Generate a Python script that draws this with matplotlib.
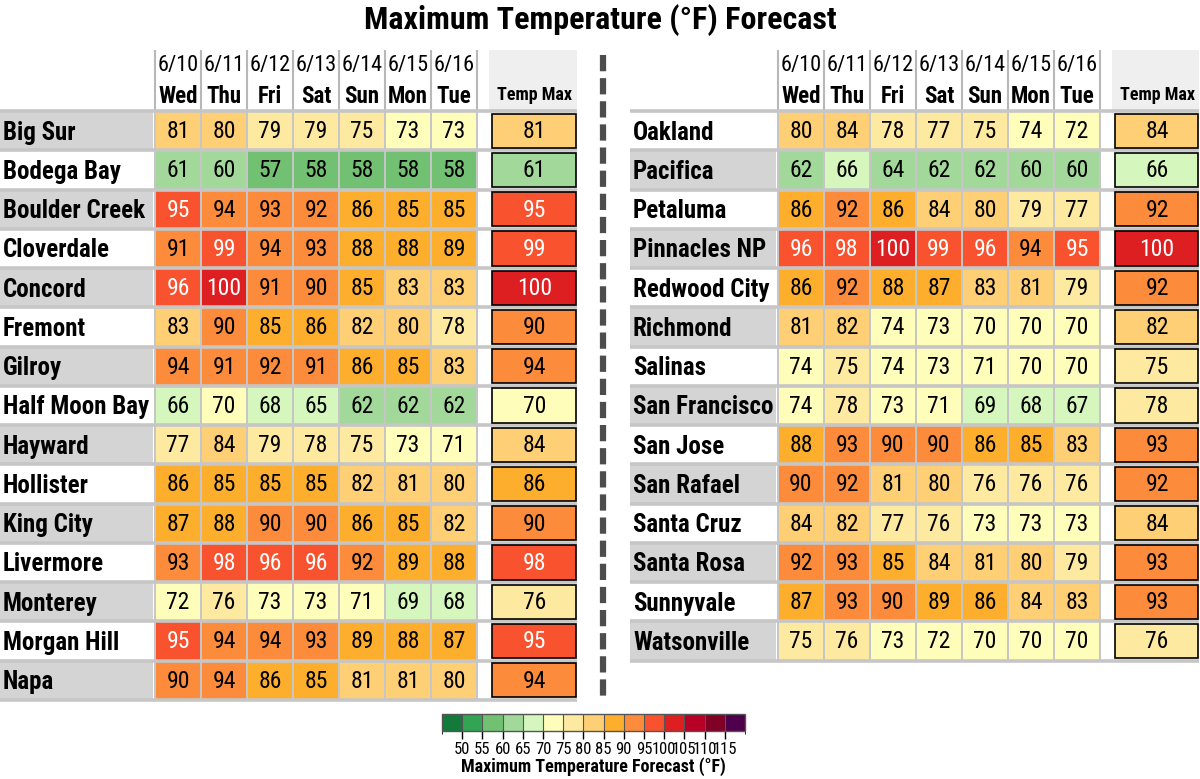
import numpy as np
import matplotlib
matplotlib.use('Agg')
import matplotlib.pyplot as plt
from matplotlib.colors import ListedColormap, BoundaryNorm
from matplotlib.cm import ScalarMappable

plt.rcParams['font.family'] = ['Roboto Condensed', 'Liberation Sans Narrow', 'Roboto', 'DejaVu Sans']

# ---------------- data ----------------
dates = ['6/10', '6/11', '6/12', '6/13', '6/14', '6/15', '6/16']
days = ['Wed', 'Thu', 'Fri', 'Sat', 'Sun', 'Mon', 'Tue']

left_cities = ['Big Sur', 'Bodega Bay', 'Boulder Creek', 'Cloverdale', 'Concord', 'Fremont',
               'Gilroy', 'Half Moon Bay', 'Hayward', 'Hollister', 'King City', 'Livermore',
               'Monterey', 'Morgan Hill', 'Napa']
left_temps = [
    [81, 80, 79, 79, 75, 73, 73],
    [61, 60, 57, 58, 58, 58, 58],
    [95, 94, 93, 92, 86, 85, 85],
    [91, 99, 94, 93, 88, 88, 89],
    [96, 100, 91, 90, 85, 83, 83],
    [83, 90, 85, 86, 82, 80, 78],
    [94, 91, 92, 91, 86, 85, 83],
    [66, 70, 68, 65, 62, 62, 62],
    [77, 84, 79, 78, 75, 73, 71],
    [86, 85, 85, 85, 82, 81, 80],
    [87, 88, 90, 90, 86, 85, 82],
    [93, 98, 96, 96, 92, 89, 88],
    [72, 76, 73, 73, 71, 69, 68],
    [95, 94, 94, 93, 89, 88, 87],
    [90, 94, 86, 85, 81, 81, 80],
]
left_max = [81, 61, 95, 99, 100, 90, 94, 70, 84, 86, 90, 98, 76, 95, 94]

right_cities = ['Oakland', 'Pacifica', 'Petaluma', 'Pinnacles NP', 'Redwood City', 'Richmond',
                'Salinas', 'San Francisco', 'San Jose', 'San Rafael', 'Santa Cruz', 'Santa Rosa',
                'Sunnyvale', 'Watsonville']
right_temps = [
    [80, 84, 78, 77, 75, 74, 72],
    [62, 66, 64, 62, 62, 60, 60],
    [86, 92, 86, 84, 80, 79, 77],
    [96, 98, 100, 99, 96, 94, 95],
    [86, 92, 88, 87, 83, 81, 79],
    [81, 82, 74, 73, 70, 70, 70],
    [74, 75, 74, 73, 71, 70, 70],
    [74, 78, 73, 71, 69, 68, 67],
    [88, 93, 90, 90, 86, 85, 83],
    [90, 92, 81, 80, 76, 76, 76],
    [84, 82, 77, 76, 73, 73, 73],
    [92, 93, 85, 84, 81, 80, 79],
    [87, 93, 90, 89, 86, 84, 83],
    [75, 76, 73, 72, 70, 70, 70],
]
right_max = [84, 66, 92, 100, 92, 82, 75, 78, 93, 92, 84, 93, 93, 76]

bounds = [45, 50, 55, 60, 65, 70, 75, 80, 85, 90, 95, 100, 105, 110, 115, 120]
bin_colors = ['#137a3b', '#32a454', '#72c173', '#a2d99a', '#d5f6bd', '#fffdba', '#fee9a1',
              '#fecf74', '#fdae2d', '#fc8b3b', '#f8522e', '#dd1f22', '#b80027', '#800026',
              '#4e004d']
cbar_ticks = [50, 55, 60, 65, 70, 75, 80, 85, 90, 95, 100, 105, 110, 115]

cmap = ListedColormap(bin_colors)
norm = BoundaryNorm(bounds, cmap.N)

# ---------------- layout ----------------
W, H = 1200, 779
ROW_Y0 = 111.0
ROW_H = 39.25
COL_W = 46.0
HEAD_Y0 = 50.0
GRID = '#c6c6c6'
LABEL_BG = '#d4d4d4'

fig = plt.figure(figsize=(W / 100, H / 100), dpi=100)
ax = fig.add_axes([0, 0, 1, 1])
ax.set_xlim(0, W)
ax.set_ylim(H, 0)
ax.axis('off')


def draw_table(lab_x0, cell_x0, max_x0, max_x1, cities, temps, maxs, gray_parity):
    n = len(cities)
    ncol = len(dates)
    cell_x1 = cell_x0 + COL_W * ncol
    y_edges = ROW_Y0 + ROW_H * np.arange(n + 1)
    x_edges = cell_x0 + COL_W * np.arange(ncol + 1)

    # label backgrounds
    for i in range(n):
        if i % 2 == gray_parity:
            ax.bar(lab_x0, ROW_H, width=cell_x0 - lab_x0 - 2, bottom=y_edges[i],
                   align='edge', color=LABEL_BG, zorder=1)
        ax.text(lab_x0 + 3, y_edges[i] + ROW_H / 2 + 2, cities[i], fontsize=18,
                fontweight='bold', ha='left', va='center', zorder=5)

    # header
    ax.bar(max_x0 - 3, ROW_Y0 - HEAD_Y0, width=max_x1 - max_x0 + 3, bottom=HEAD_Y0,
           align='edge', color='#efefef', zorder=1)
    ax.vlines(x_edges, HEAD_Y0, ROW_Y0, color='#b8b8b8', lw=1.5, zorder=2)
    for j in range(ncol):
        xc = x_edges[j] + COL_W / 2
        ax.text(xc, 65, dates[j], fontsize=16, ha='center', va='center', zorder=5)
        ax.text(xc, 96, days[j], fontsize=16.5, fontweight='bold', ha='center', va='center',
                zorder=5)
    ax.text((max_x0 + max_x1) / 2, 95, 'Temp Max', fontsize=13, fontweight='bold',
            ha='center', va='center', zorder=5)

    # heat cells
    ax.pcolormesh(x_edges, y_edges, np.array(temps), cmap=cmap, norm=norm,
                  edgecolors=GRID, linewidth=1.4, zorder=2)
    # row separators
    ax.hlines(y_edges, lab_x0, max_x1, color=GRID, lw=2.6, zorder=3)
    ax.vlines(cell_x1, ROW_Y0, y_edges[-1], color=GRID, lw=1.4, zorder=3)

    for i in range(n):
        yc = y_edges[i] + ROW_H / 2 + 1
        for j in range(ncol):
            v = temps[i][j]
            ax.text(x_edges[j] + COL_W / 2, yc, str(v), fontsize=17, ha='center', va='center',
                    color='white' if v >= 95 else 'black', zorder=5)

    # temp max boxes
    maxcols = [cmap(norm(v)) for v in maxs]
    ax.bar(max_x0, ROW_H - 5, width=max_x1 - max_x0 - 1, bottom=y_edges[:-1] + 2.5,
           align='edge', color=maxcols, edgecolor='black', linewidth=1.2, zorder=4)
    for i in range(n):
        v = maxs[i]
        ax.text((max_x0 + max_x1) / 2, y_edges[i] + ROW_H / 2 + 1, str(v), fontsize=17,
                ha='center', va='center', color='white' if v >= 95 else 'black', zorder=5)


draw_table(0, 155, 492, 577, left_cities, left_temps, left_max, 0)
draw_table(630, 778, 1115, 1199, right_cities, right_temps, right_max, 1)

# dashed divider
ax.vlines(603, 55, 700, color='#4d4d4d', lw=4.5, linestyles=(0, (2.6, 1.1)), zorder=3)

# title
fig.text(0.5, 1 - 20 / H, 'Maximum Temperature (°F) Forecast', fontsize=23,
         fontweight='bold', ha='center', va='center')

# colorbar
cax = fig.add_axes([442 / W, 1 - 731 / H, 303 / W, 17 / H])
sm = ScalarMappable(norm=norm, cmap=cmap)
cb = fig.colorbar(sm, cax=cax, orientation='horizontal', ticks=cbar_ticks, drawedges=True)
cb.outline.set_edgecolor('#555555')
cb.outline.set_linewidth(1.0)
cb.dividers.set_color('#555555')
cb.dividers.set_linewidth(0.8)
cb.ax.tick_params(labelsize=12, length=6, width=1, pad=2)
cb.set_label('Maximum Temperature Forecast (°F)', fontsize=13, fontweight='bold', labelpad=0)

fig.savefig('out.png', dpi=100)
